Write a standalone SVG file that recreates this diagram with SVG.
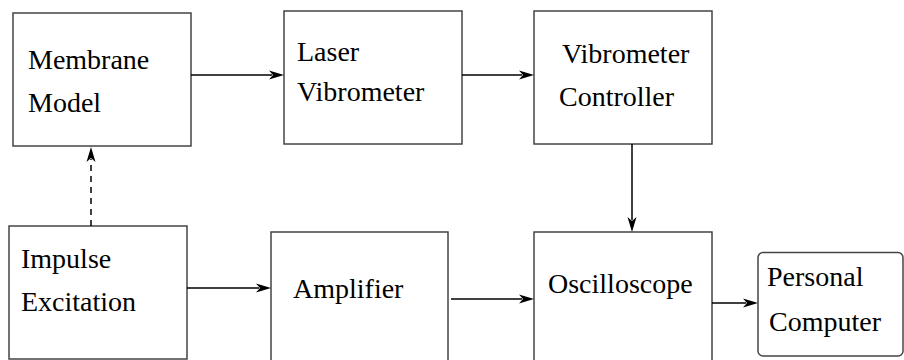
<svg xmlns="http://www.w3.org/2000/svg" width="904" height="360" viewBox="0 0 904 360">
<defs>
<style>
.box{fill:#fff;stroke:#444;stroke-width:1.5}
.lbl{font-size:28px;fill:#000}
.con{stroke:#000;stroke-width:1.5;fill:none}
.dash{stroke-dasharray:6 5}
.head{fill:#000}
</style>
</defs>
<rect width="904" height="360" fill="#fff"/>
<g id="membrane-model">
<rect class="box" x="13" y="13" width="178" height="133"/>
<text class="lbl" style="font-family:'Liberation Serif'" x="28" y="69">Membrane</text>
<text class="lbl" style="font-family:'Liberation Serif'" x="28" y="112">Model</text>
</g>
<g id="laser-vibrometer">
<rect class="box" x="284" y="11" width="178" height="133"/>
<text class="lbl" style="font-family:'Liberation Serif'" x="297" y="61">Laser</text>
<text class="lbl" style="font-family:'Liberation Serif'" x="297" y="101">Vibrometer</text>
</g>
<g id="vibrometer-controller">
<rect class="box" x="534" y="11" width="178" height="133"/>
<text class="lbl" style="font-family:'Liberation Serif'" x="562" y="63">Vibrometer</text>
<text class="lbl" style="font-family:'Liberation Serif'" x="559" y="106">Controller</text>
</g>
<g id="impulse-excitation">
<rect class="box" x="9" y="226" width="178" height="133"/>
<text class="lbl" style="font-family:'Liberation Serif'" x="21" y="268">Impulse</text>
<text class="lbl" style="font-family:'Liberation Serif'" x="21" y="311">Excitation</text>
</g>
<g id="amplifier">
<rect class="box" x="271" y="232" width="177" height="140"/>
<text class="lbl" style="font-family:'Liberation Serif'" x="293" y="298">Amplifier</text>
</g>
<g id="oscilloscope">
<rect class="box" x="534" y="232" width="178" height="140"/>
<text class="lbl" style="font-family:'Liberation Serif'" x="548" y="293">Oscilloscope</text>
</g>
<g id="personal-computer">
<rect class="box" x="758" y="252.5" width="145" height="103.5" rx="5"/>
<text class="lbl" style="font-family:'Liberation Serif'" x="767" y="286">Personal</text>
<text class="lbl" style="font-family:'Liberation Serif'" x="769" y="331">Computer</text>
</g>
<g id="connectors">
<line class="con" x1="191" y1="75" x2="272" y2="75"/>
<path class="head" d="M284,75 L269,70.5 L273,75 L269,79.5 z"/>
<line class="con" x1="462" y1="75" x2="522" y2="75"/>
<path class="head" d="M534,75 L519,70.5 L523,75 L519,79.5 z"/>
<line class="con" x1="632" y1="144" x2="632" y2="220"/>
<path class="head" d="M632,232 L627.5,217 L632,221 L636.5,217 z"/>
<line class="con dash" x1="91" y1="226" x2="91" y2="159"/>
<path class="head" d="M91,147 L86.5,162 L91,158 L95.5,162 z"/>
<line class="con" x1="187" y1="288" x2="259" y2="288"/>
<path class="head" d="M271,288 L256,283.5 L260,288 L256,292.5 z"/>
<line class="con" x1="451" y1="299" x2="522" y2="299"/>
<path class="head" d="M534,299 L519,294.5 L523,299 L519,303.5 z"/>
<line class="con" x1="712" y1="303" x2="746" y2="303"/>
<path class="head" d="M758,303 L743,298.5 L747,303 L743,307.5 z"/>
</g>
</svg>
